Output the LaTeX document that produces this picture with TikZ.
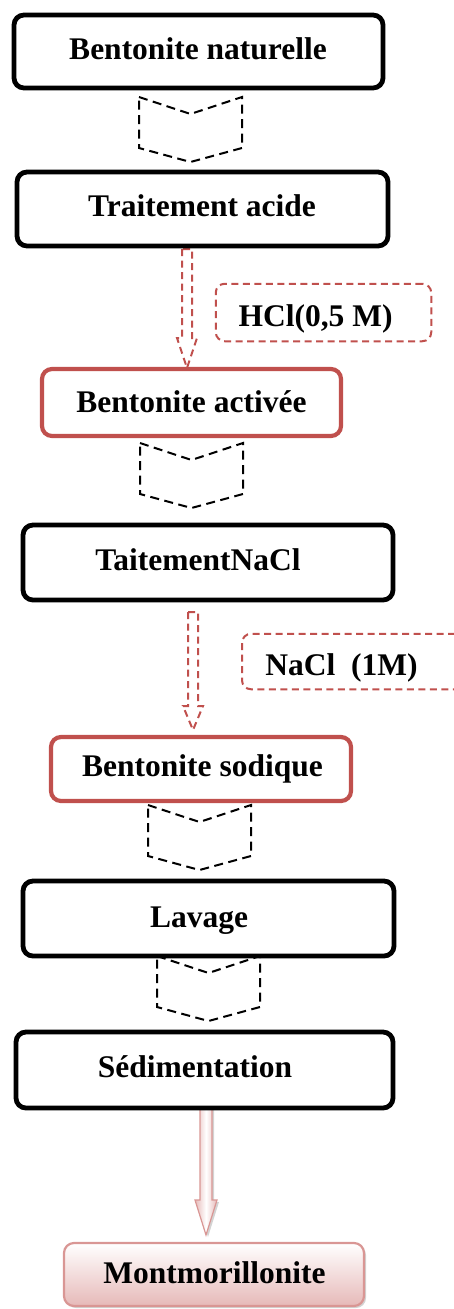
\documentclass[tikz,border=0pt]{standalone}
\usepackage{fontspec}
\setmainfont{Liberation Serif}
\usetikzlibrary{shadows}
\definecolor{redb}{HTML}{C0504D}
\definecolor{pinkb}{HTML}{D99694}
\definecolor{pinkf}{HTML}{E6B9B8}
\begin{document}
\begin{tikzpicture}[x=1pt,y=1pt,
 txt/.style={font=\fontsize{31.5}{36}\selectfont\bfseries, inner sep=0pt, text height=22pt, text depth=7pt},
 bbox/.style={draw=black, line width=4.8pt, rounded corners=10pt, fill=white, inner sep=0pt},
 rbox/.style={draw=redb, line width=4.2pt, rounded corners=10pt, fill=white, inner sep=0pt},
 dbox/.style={draw=redb, line width=2pt, dash pattern=on 7pt off 4.5pt, rounded corners=9pt, inner sep=0pt},
 chevline/.style={draw=black, line width=2pt, dash pattern=on 9pt off 5.5pt},
 rarrow/.style={draw=redb, line width=2pt, dash pattern=on 7pt off 4.5pt},
 chev/.pic={\draw[chevline] (0,0) -- (51.5,-17) -- (103,0) -- (103,-51) -- (51.5,-65) -- (0,-51) -- cycle;}
]
\useasboundingbox (0,0) rectangle (454,-1309);
\clip (0,0) rectangle (454,-1309);
% chevrons
\pic at (139,-97) {chev};
\pic at (140,-443) {chev};
\pic at (148,-805) {chev};
\pic at (157,-956) {chev};
% red dashed arrows
\draw[rarrow] (182,-249) -- (182,-338) -- (177,-338) -- (187,-368) -- (197,-338) -- (192,-338) -- (192,-249) -- cycle;
\draw[rarrow] (188,-612) -- (188,-706) -- (183,-706) -- (193,-730) -- (203,-706) -- (198,-706) -- (198,-612) -- cycle;
% big arrow
\path[draw=pinkb, line width=1.2pt, left color=pinkf, right color=pinkf, middle color=white,
  drop shadow={shadow xshift=2pt,shadow yshift=-2pt,opacity=.35}]
  (200,-1108) -- (200,-1200) -- (195,-1200) -- (206,-1235) -- (217,-1200) -- (212,-1200) -- (212,-1108) -- cycle;
% boxes
\node[bbox, minimum width=369pt, minimum height=73pt] (b1) at (198.5,-51.5) {};
\node[txt] (t1) at (198,-51.5) {Bentonite naturelle};
\node[bbox, minimum width=371pt, minimum height=74pt] (b2) at (202.5,-209) {};
\node[txt] (t2) at (202,-209) {Traitement acide};
\node[rbox, minimum width=299pt, minimum height=67pt] (b3) at (191.5,-402.5) {};
\node[txt] (t3) at (191.5,-405) {Bentonite activée};
\node[bbox, minimum width=370pt, minimum height=75pt] (b4) at (208,-562.5) {};
\node[txt] (t4) at (198,-562.5) {TaitementNaCl};
\node[rbox, minimum width=300pt, minimum height=64pt] (b5) at (201,-769) {};
\node[txt] (t5) at (202.5,-769) {Bentonite sodique};
\node[bbox, minimum width=371pt, minimum height=75pt] (b6) at (208.5,-918.5) {};
\node[txt] (t6) at (199,-919.5) {Lavage};
\node[bbox, minimum width=377pt, minimum height=76pt] (b7) at (204.5,-1070) {};
\node[txt] (t7) at (195,-1070) {Sédimentation};
\node[draw=pinkb, line width=2.2pt, rounded corners=10pt, top color=white, bottom color=pinkf,
  drop shadow={shadow xshift=2pt,shadow yshift=-2pt,opacity=.35},
  minimum width=300pt, minimum height=63pt, inner sep=0pt] (b8) at (214,-1274.5) {};
\node[txt] (t8) at (214.5,-1275.5) {Montmorillonite};
% reagent boxes
\node[dbox, minimum width=215.5pt, minimum height=57.5pt] (h1) at (323.5,-312.5) {};
\node[txt] (th1) at (315.5,-318.5) {HCl(0,5 M)};
\node[dbox, minimum width=222pt, minimum height=55.5pt] (h2) at (353,-661.5) {};
\node[txt] (th2) at (341.5,-667.5) {NaCl\ \ (1M)};
\end{tikzpicture}
\end{document}
